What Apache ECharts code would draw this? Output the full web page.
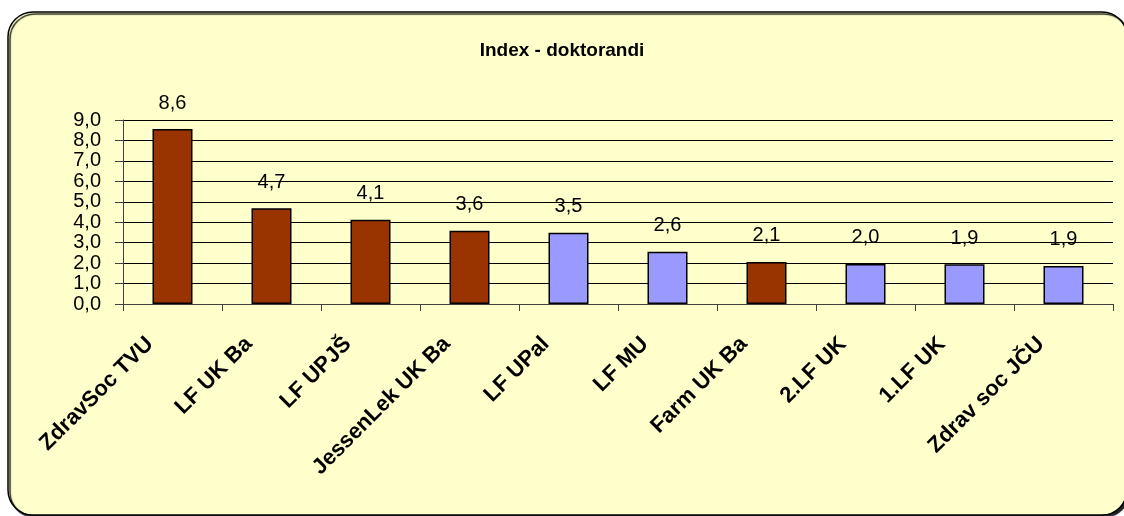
<!DOCTYPE html>
<html lang="sk">
<head>
<meta charset="UTF-8">
<title>Index - doktorandi</title>
<script src="https://cdn.jsdelivr.net/npm/echarts@6/dist/echarts.min.js"></script>
<style>
  html, body { margin: 0; padding: 0; background: #fff; }
  #main { width: 1124px; height: 516px; }
</style>
</head>
<body>
<div id="main"></div>
<script>
// data
var faculties = ['ZdravSoc TVU', 'LF UK Ba', 'LF UPJŠ', 'JessenLek UK Ba', 'LF UPal', 'LF MU', 'Farm UK Ba', '2.LF UK', '1.LF UK', 'Zdrav soc JČU'];
var indexValues = [8.56, 4.68, 4.12, 3.58, 3.49, 2.56, 2.06, 1.96, 1.94, 1.86];
// SK = slovak faculty, CZ = czech faculty
var country = ['SK', 'SK', 'SK', 'SK', 'CZ', 'CZ', 'SK', 'CZ', 'CZ', 'CZ'];
var yTicks = [0, 9, 1];

var colors = { SK: '#993300', CZ: '#9999FF' };
var font = '"Liberation Sans", Arial, sans-serif';

function fmt(v) { return v.toFixed(1).replace('.', ','); }

var chart = echarts.init(document.getElementById('main'));

chart.setOption({
  backgroundColor: '#ffffff',
  animation: false,
  graphic: [{
    type: 'rect',
    z: -10,
    silent: true,
    shape: { x: 8, y: 12, width: 1119, height: 503, r: 25 },
    style: {
      fill: '#FFFFCC',
      stroke: '#000',
      lineWidth: 1.5,
      shadowColor: 'rgba(0,0,0,0.85)',
      shadowOffsetX: 2,
      shadowOffsetY: 2,
      shadowBlur: 1
    }
  }],
  title: {
    text: 'Index - doktorandi',
    left: 'center',
    top: 36,
    textStyle: { fontFamily: font, fontSize: 19, fontWeight: 'bold', color: '#000' }
  },
  grid: { left: 123, right: 11, top: 120, bottom: 212, containLabel: false },
  xAxis: {
    type: 'category',
    data: faculties,
    boundaryGap: true,
    axisLine: { show: true, lineStyle: { color: '#404040', width: 1 } },
    axisTick: { show: true, length: 7, alignWithLabel: false, lineStyle: { color: '#404040' } },
    axisLabel: {
      interval: 0,
      rotate: 45,
      margin: 14,
      padding: [0, 32, 0, 0],
      fontFamily: font,
      fontSize: 22,
      fontWeight: 'bold',
      color: '#000'
    },
    splitLine: { show: false }
  },
  yAxis: {
    type: 'value',
    min: yTicks[0],
    max: yTicks[1],
    interval: yTicks[2],
    axisLine: { show: true, lineStyle: { color: '#404040', width: 1 } },
    axisTick: { show: true, length: 8, lineStyle: { color: '#404040' } },
    axisLabel: {
      margin: 22,
      fontFamily: font,
      fontSize: 20,
      lineHeight: 20,
      color: '#000',
      formatter: fmt
    },
    splitLine: { show: true, lineStyle: { color: '#000', width: 1 } }
  },
  series: [{
    type: 'bar',
    barWidth: 40,
    data: indexValues.map(function (v, i) {
      return { value: v, itemStyle: { color: colors[country[i]] } };
    }),
    itemStyle: { borderColor: '#000', borderWidth: 1.5 },
    label: {
      show: true,
      position: 'top',
      distance: 16,
      fontFamily: font,
      fontSize: 20,
      color: '#000',
      formatter: function (p) { return fmt(p.value); }
    }
  }]
});
</script>
</body>
</html>
